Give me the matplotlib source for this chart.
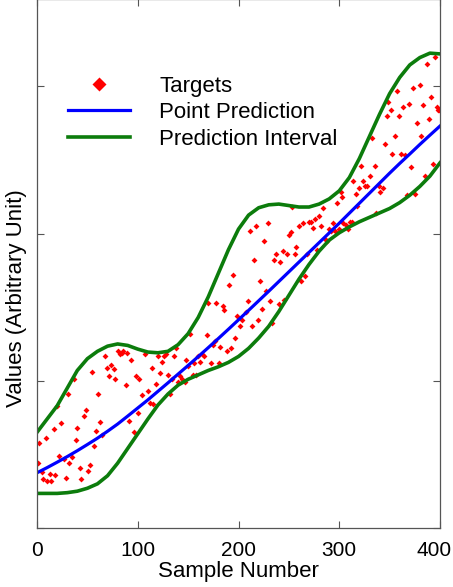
import matplotlib
matplotlib.use("Agg")
import matplotlib.pyplot as plt
from matplotlib.transforms import ScaledTranslation

plt.rcParams['font.family'] = ['Liberation Sans', 'DejaVu Sans']

# curves, read every 10 samples
curve_x = list(range(0, 401, 10))
upper = [0.65, 0.74, 0.83, 0.95, 1.07, 1.15, 1.20, 1.235, 1.25, 1.24,
         1.215, 1.195, 1.19, 1.20, 1.245, 1.32, 1.43, 1.57, 1.73, 1.89,
         2.03, 2.125, 2.175, 2.195, 2.20, 2.19, 2.18, 2.18, 2.20, 2.235,
         2.29, 2.38, 2.51, 2.66, 2.81, 2.95, 3.06, 3.145, 3.195, 3.225, 3.22]
lower = [0.235, 0.235, 0.235, 0.24, 0.25, 0.27, 0.30, 0.355, 0.44, 0.54,
         0.64, 0.74, 0.835, 0.91, 0.97, 1.01, 1.04, 1.07, 1.095, 1.125,
         1.165, 1.22, 1.29, 1.37, 1.47, 1.58, 1.69, 1.79, 1.88, 1.955,
         2.005, 2.045, 2.08, 2.11, 2.14, 2.17, 2.21, 2.26, 2.32, 2.39, 2.48]
pred = [0.375, 0.41, 0.447, 0.485, 0.525, 0.567, 0.61, 0.657, 0.706, 0.76,
        0.815, 0.87, 0.928, 0.986, 1.045, 1.104, 1.164, 1.225, 1.287, 1.35,
        1.414, 1.478, 1.543, 1.608, 1.674, 1.74, 1.806, 1.872, 1.938, 2.004,
        2.07, 2.138, 2.206, 2.274, 2.342, 2.41, 2.476, 2.54, 2.605, 2.668, 2.73]

# targets
target_x = [2, 1, 5, 6, 10, 14, 13, 9, 17, 18, 20, 22, 24, 27, 29, 31, 32, 35, 37, 39,
            40, 43, 44, 47, 49, 51, 53, 55, 57, 59, 61, 63, 65, 67, 69, 71, 73, 76, 77, 80,
            82, 84, 85, 89, 88, 91, 93, 96, 98, 100, 101,
            104, 107, 110, 112, 115, 114, 118, 120, 122, 124, 126, 128, 130, 132, 134, 136, 138, 140,
            142, 144, 147, 148, 150, 152, 155, 156, 158, 160, 162, 164, 166, 169, 170, 173, 175, 177,
            178, 181, 182, 185, 186, 189, 191, 193, 195, 197, 199, 201,
            203, 207, 209, 211, 213, 215, 217, 219, 221, 223, 225, 227, 229, 231, 233, 235, 237, 240,
            241, 244, 245, 248, 250, 252, 253, 256, 257, 260, 262, 264, 266, 268, 270, 272, 274, 276,
            278, 280, 282, 284, 286, 288, 290, 292, 294, 296, 298, 300, 302,
            303, 304, 307, 309, 311, 313, 314, 317, 318, 320, 322, 324, 326, 328, 331, 333, 335, 336,
            339, 340, 343, 345, 347, 348, 351, 352, 355, 357, 359, 361, 363, 365, 367, 369, 371, 373,
            375, 377, 380, 381, 383, 385, 387, 389, 391, 393, 395, 397, 398, 399]
target_y = [0.58, 0.44, 0.38, 0.33, 0.32, 0.32, 0.365, 0.61, 0.67, 0.36, 0.83, 0.49, 0.71, 0.47, 0.34, 0.91, 0.44, 0.48, 1.01, 0.60,
            0.68, 0.41, 0.33, 0.76, 0.80, 0.39, 0.43, 1.06, 0.56, 0.66, 0.91, 0.72, 0.63, 1.17, 1.09, 1.03, 1.11, 1.08, 1.01, 1.20,
            1.18, 1.19, 1.20, 1.19, 0.97, 0.73, 1.14, 0.65, 1.03, 0.78, 1.01,
            0.90, 1.18, 0.93, 0.85, 0.84, 1.09, 0.98, 1.17, 1.05, 1.13, 1.17, 1.18, 1.04, 0.91, 1.01, 1.17, 1.22, 0.99,
            1.03, 1.01, 0.99, 1.14, 1.10, 1.32, 1.04, 1.12, 1.04, 1.17, 1.13, 1.18, 1.17, 1.31, 1.53, 1.12, 1.24, 1.27,
            1.53, 1.12, 1.23, 1.51, 1.48, 1.20, 1.65, 1.22, 1.72, 1.29, 1.44, 1.37,
            1.41, 1.47, 1.54, 2.02, 1.37, 1.82, 2.05, 1.41, 1.68, 1.49, 1.95, 1.61, 2.07, 1.54, 1.39, 1.82, 1.86, 1.52,
            1.81, 1.88, 1.55, 1.86, 1.99, 2.01, 2.18, 1.86, 1.91, 2.05, 1.68, 2.07, 1.71, 1.86, 2.08, 2.08, 2.04, 2.10,
            1.89, 2.12, 2.05, 2.17, 1.96, 1.95, 2.03, 2.02, 2.07, 2.02, 2.21, 2.03, 2.28,
            2.25, 2.07, 2.06, 2.03, 2.08, 2.08, 2.36, 2.27, 2.19, 2.31, 2.46, 2.36, 2.32, 2.32, 2.39, 2.65, 2.46, 2.14,
            2.32, 2.28, 2.31, 2.61, 2.80, 2.89, 2.84, 2.54, 2.66, 2.97, 2.80, 2.54, 2.86, 2.53, 2.26, 2.88, 2.45, 2.99,
            2.27, 2.75, 3.01, 2.66, 2.87, 2.39, 3.15, 2.78, 2.93, 2.47, 3.20, 2.86, 2.84, 2.84]

green = '#0c7c0c'

fig = plt.figure(figsize=(4.53, 5.87), dpi=100)
ax = fig.add_axes([0.0817, 0.1005, 0.8896, 0.9005])

ax.plot(target_x, target_y, 'D', color='red', ms=3.0, mec='none', label='Targets')
ax.plot(curve_x, pred, color='blue', lw=2.3, label='Point Prediction')
ax.plot(curve_x, upper, color=green, lw=2.6, label='Prediction Interval')
ax.plot(curve_x, lower, color=green, lw=2.6)

ax.set_xlim(0, 400)
ax.set_ylim(0, 3.59)
ax.set_xticks([0, 100, 200, 300, 400])
ax.set_yticks([0, 1, 2, 3])
ax.set_yticklabels([])
ax.tick_params(direction='in', top=True, right=True, length=5, width=0.8,
               color='#555555', labelsize=15, pad=9)
for s in ax.spines.values():
    s.set_color('#555555')
    s.set_linewidth(0.9)

lbl = ax.get_xticklabels()[-1]
lbl.set_transform(lbl.get_transform() + ScaledTranslation(-0.06, 0, fig.dpi_scale_trans))

ax.set_xlabel('Sample Number', fontsize=16, labelpad=1)
ax.set_ylabel('Values (Arbitrary Unit)', fontsize=16)
ax.yaxis.set_label_coords(-0.025, 0.434)

ax.legend(loc='upper left', bbox_to_anchor=(0.05, 0.877), frameon=False,
          fontsize=16, handlelength=2.8, handletextpad=1.3, labelspacing=0.25,
          markerscale=2.3, borderpad=0)

plt.savefig('out.png', dpi=100)
